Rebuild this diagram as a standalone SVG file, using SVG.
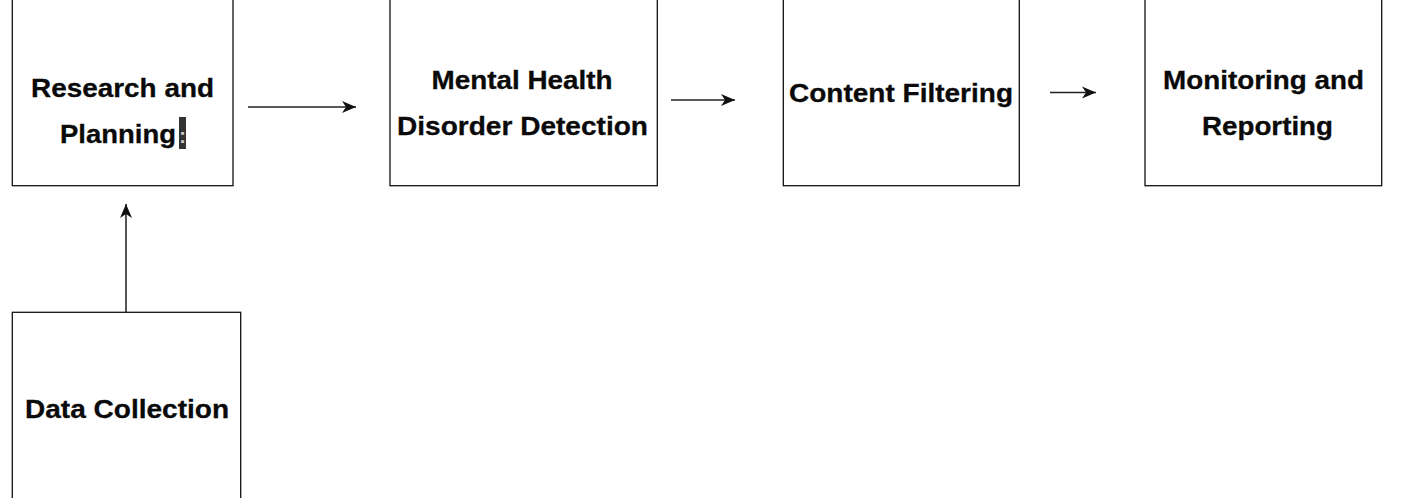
<svg xmlns="http://www.w3.org/2000/svg" width="1406" height="498" viewBox="0 0 1406 498">
<style>
.box{fill:#ffffff;stroke:#111111;stroke-width:1.3}
.lbl{font-family:"Liberation Sans",Arial,Helvetica,sans-serif;font-weight:bold;font-size:26px;fill:#0a0a0a;stroke:#0a0a0a;stroke-width:0.3}
.con{fill:none;stroke:#222222;stroke-width:1.3}
.con2{fill:none;stroke:#555555;stroke-width:2}
</style>
<defs>
<marker id="ah" markerUnits="userSpaceOnUse" markerWidth="16" markerHeight="14" viewBox="-15 -7 16 14" refX="0" refY="0" orient="auto">
<path d="M0,0 L-14,-6 L-10,0 L-14,6 Z" fill="#111111"/>
</marker>
</defs>
<rect width="1406" height="498" fill="#ffffff"/>
<g id="connectors">
<line class="con" x1="248" y1="107" x2="356" y2="107" marker-end="url(#ah)"/>
<line class="con" x1="671" y1="100" x2="735" y2="100" marker-end="url(#ah)"/>
<line class="con" x1="1050" y1="92.5" x2="1096" y2="92.5" marker-end="url(#ah)"/>
<line class="con2" x1="126" y1="312" x2="126" y2="204" marker-end="url(#ah)"/>
</g>
<g id="research">
<rect class="box" x="12.3" y="-20" width="220.7" height="205.7"/>
<text class="lbl" x="31" y="97" textLength="183" lengthAdjust="spacingAndGlyphs">Research and</text>
<text class="lbl" x="60" y="143" textLength="116" lengthAdjust="spacingAndGlyphs">Planning</text>
<rect x="179" y="117" width="7" height="32" fill="#333333"/>
<text x="182.5" y="143" font-family="Liberation Sans,Arial,sans-serif" font-weight="bold" font-size="20" fill="#cccccc" text-anchor="middle">:</text>
</g>
<g id="detection">
<rect class="box" x="390" y="-20" width="267.3" height="205.7"/>
<text class="lbl" x="431.5" y="89" textLength="181" lengthAdjust="spacingAndGlyphs">Mental Health</text>
<text class="lbl" x="397" y="135" textLength="251" lengthAdjust="spacingAndGlyphs">Disorder Detection</text>
</g>
<g id="filtering">
<rect class="box" x="783.3" y="-20" width="236" height="205.7"/>
<text class="lbl" x="789" y="102" textLength="224" lengthAdjust="spacingAndGlyphs">Content Filtering</text>
</g>
<g id="monitoring">
<rect class="box" x="1145" y="-20" width="236.7" height="205.7"/>
<text class="lbl" x="1163" y="89" textLength="201" lengthAdjust="spacingAndGlyphs">Monitoring and</text>
<text class="lbl" x="1202" y="135" textLength="131" lengthAdjust="spacingAndGlyphs">Reporting</text>
</g>
<g id="collection">
<rect class="box" x="12.3" y="312.3" width="228.4" height="210"/>
<text class="lbl" x="25" y="418" textLength="204" lengthAdjust="spacingAndGlyphs">Data Collection</text>
</g>
</svg>
